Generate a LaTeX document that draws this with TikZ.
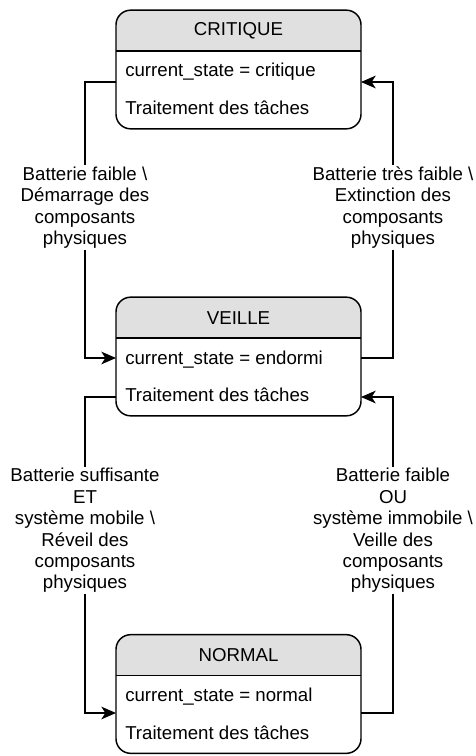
\documentclass[tikz,border=0pt]{standalone}
\usepackage{fontspec}
\setmainfont{Liberation Sans}
\usetikzlibrary{arrows.meta,calc}
\newcommand\stRad{11pt}
\newcommand\stHead{30.75pt}
\newcommand\drawstate[4]{%
  \begin{scope}
    \clip[rounded corners=\stRad] (#1.north west) rectangle (#1.south east);
    \fill[headfill] (#1.north west) rectangle ([yshift=-\stHead]#1.north east);
  \end{scope}
  \draw[boxline] ([yshift=-\stHead]#1.north west) -- ([yshift=-\stHead]#1.north east);
  \draw[boxline, rounded corners=\stRad] (#1.north west) rectangle (#1.south east);
  \node[txt] (#1-title) at ([yshift=-15.6pt]#1.north) {#2};
  \node[txt, anchor=west] (#1-row1) at ([xshift=6.75pt, yshift=-46.5pt]#1.north west) {#3};
  \node[txt, anchor=west] (#1-row2) at ([xshift=6.75pt, yshift=-73.5pt]#1.north west) {#4};
}
\begin{document}
\begin{tikzpicture}[x=0.75pt, y=-0.75pt,
  txt/.style={inner sep=0pt, font=\fontsize{14}{16.05}\selectfont},
  statebox/.style={draw=none, fill=white, rectangle, rounded corners=\stRad,
    minimum width=183.75pt, minimum height=89pt, inner sep=0pt, outer sep=0pt},
  headfill/.style={fill=black!12},
  boxline/.style={draw=black, line width=1.1pt},
  conn/.style={draw=black, line width=0.9pt},
  arr/.style={-{Stealth[length=11pt, width=9.5pt, inset=3pt]}},
  lbl/.style={fill=white, inner sep=1pt, align=center, font=\fontsize{14}{16.05}\selectfont}]
\useasboundingbox (0,0) rectangle (475,756);

% states
\node[statebox] (crit) at (238.5,69.5) {};
\node[statebox] (veil) at (238.5,356.5) {};
\node[statebox] (norm) at (238.5,694) {};
\drawstate{crit}{CRITIQUE}{current\_state = critique}{Traitement des tâches}
\drawstate{veil}{VEILLE}{current\_state = endormi}{Traitement des tâches}
\drawstate{norm}{NORMAL}{current\_state = normal}{Traitement des tâches}

% bend points
\coordinate (l1a) at (85,82);
\coordinate (l1b) at (85,358);
\coordinate (r1a) at (393,358);
\coordinate (r1b) at (393,82);
\coordinate (l2a) at (85,397);
\coordinate (l2b) at (85,713);
\coordinate (r2a) at (393,713);
\coordinate (r2b) at (393,397);

% connectors
\draw[conn, arr] (l1a -| crit.west) -- (l1a) --
  node[lbl, pos=0.455] (lab1) {Batterie faible \textbackslash\\Démarrage des\\composants\\physiques}
  (l1b) -- (l1b -| veil.west);
\draw[conn, arr] (r1a -| veil.east) -- (r1a) --
  node[lbl, pos=0.545] (lab2) {Batterie très faible \textbackslash\\Extinction des\\composants\\physiques}
  (r1b) -- (r1b -| crit.east);
\draw[conn, arr] (l2a -| veil.west) -- (l2a) --
  node[lbl, pos=0.4225] (lab3) {Batterie suffisante\\ET\\système mobile \textbackslash\\Réveil des\\composants\\physiques}
  (l2b) -- (l2b -| norm.west);
\draw[conn, arr] (r2a -| norm.east) -- (r2a) --
  node[lbl, pos=0.5775] (lab4) {Batterie faible\\OU\\système immobile \textbackslash\\Veille des\\composants\\physiques}
  (r2b) -- (r2b -| veil.east);
\end{tikzpicture}
\end{document}
